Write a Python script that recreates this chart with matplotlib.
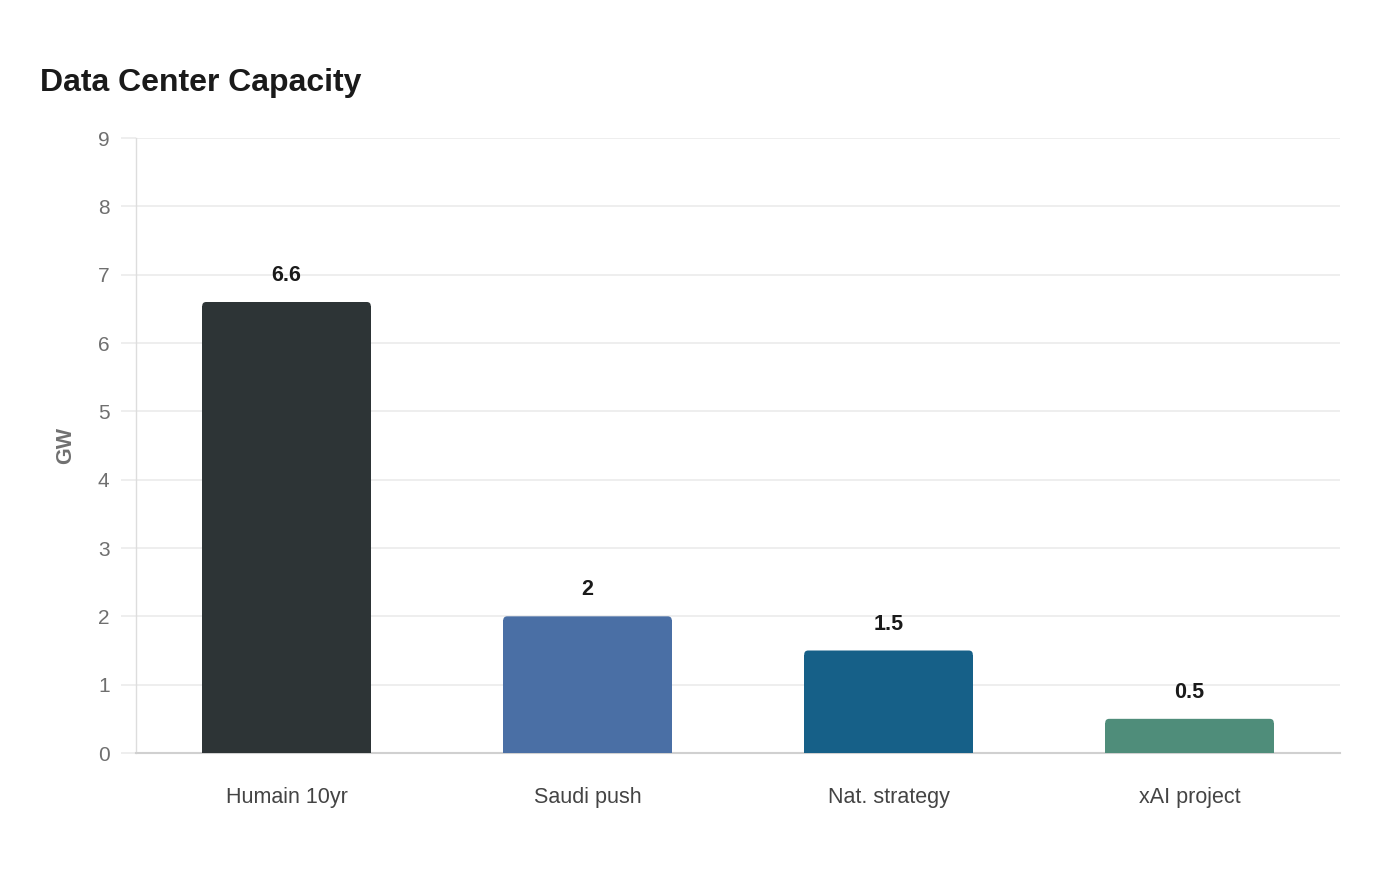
import matplotlib
matplotlib.use("Agg")
import matplotlib.pyplot as plt
from matplotlib.patches import FancyBboxPatch

categories = ["Humain 10yr", "Saudi push", "Nat. strategy", "xAI project"]
values = [6.6, 2, 1.5, 0.5]
value_labels = ["6.6", "2", "1.5", "0.5"]
colors = ["#2d3436", "#4a6fa5", "#166088", "#4f8d7a"]
y_ticks = [0, 1, 2, 3, 4, 5, 6, 7, 8, 9]

plt.rcParams["font.family"] = ["Liberation Sans", "DejaVu Sans"]

fig = plt.figure(figsize=(14, 8.8), dpi=100)
ax = fig.add_axes([136 / 1400, 1 - 753 / 880, 1204 / 1400, 615 / 880])

x = list(range(len(categories)))
bars = ax.bar(x, values, width=0.56, color=colors, zorder=3)

ax.set_xlim(-0.5, len(categories) - 0.5)
ax.set_ylim(0, 9)

# rounded top corners (radius ~4px)
px_x = 1204 / len(categories)
px_y = 615 / 9
rx = 4 / px_x
ry = 4 / px_y
for b, c in zip(bars, colors):
    bx, by, bw, bh = b.get_x(), b.get_y(), b.get_width(), b.get_height()
    b.set_height(bh - ry)
    patch = FancyBboxPatch((bx, by), bw, bh,
                           boxstyle=f"round,pad=0,rounding_size={rx}",
                           mutation_aspect=ry / rx,
                           facecolor=c, edgecolor="none", zorder=3)
    ax.add_patch(patch)

for xi, v, lab in zip(x, values, value_labels):
    ax.annotate(lab, (xi, v), xytext=(0, 19), textcoords="offset points",
                ha="center", va="center", fontsize=15.5, fontweight="bold",
                color="#1a1a1a", zorder=4)

ax.set_yticks(y_ticks)
ax.set_yticklabels([str(t) for t in y_ticks])
ax.set_xticks(x)
ax.set_xticklabels(categories)

ax.grid(axis="y", color="#ebebeb", linewidth=1.2, zorder=0)
ax.set_axisbelow(True)
ax.tick_params(axis="y", length=11, width=1.2, color="#ebebeb",
               labelsize=15, labelcolor="#6f6f6f", pad=8)
ax.tick_params(axis="x", length=0, labelsize=15.5, labelcolor="#444444", pad=24.5)

for s in ["top", "right"]:
    ax.spines[s].set_visible(False)
ax.spines["left"].set_color("#dddddd")
ax.spines["left"].set_linewidth(1)
ax.spines["bottom"].set_color("#d0d0d0")
ax.spines["bottom"].set_linewidth(1.5)

ax.set_ylabel("GW", fontsize=15.5, fontweight="bold", color="#707070", labelpad=15.5)

fig.text(40 / 1400, 1 - 83 / 880, "Data Center Capacity", fontsize=23,
         fontweight="bold", color="#1a1a1a", ha="left", va="center")

fig.savefig("out.png", dpi=100, facecolor="white")
